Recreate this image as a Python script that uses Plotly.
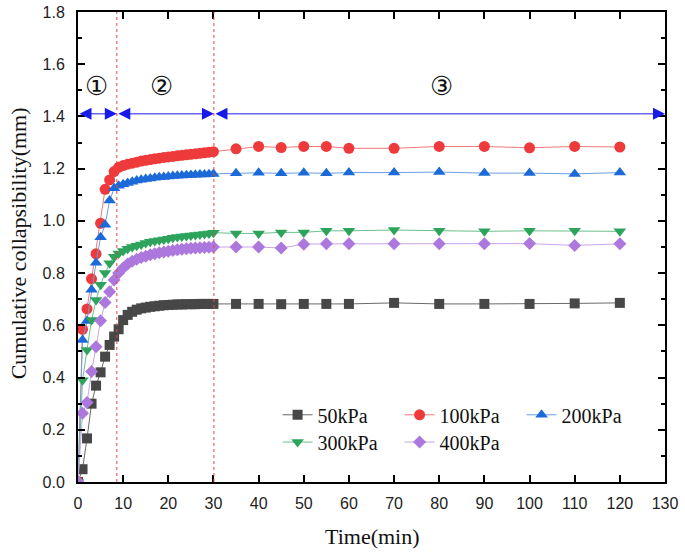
import plotly.graph_objects as go

# time (min): every minute up to 30, then sparser readings
time_min = list(range(0, 31)) + [35, 40, 45, 50, 55, 60, 70, 80, 90, 100, 110, 120]

kpa_50 = [0, 0.049, 0.167, 0.300, 0.369, 0.420, 0.480, 0.525, 0.557, 0.585,
          0.620, 0.640, 0.652, 0.660, 0.665, 0.668, 0.671, 0.673, 0.675, 0.677,
          0.678, 0.679, 0.680, 0.680, 0.681, 0.681, 0.681, 0.682, 0.682, 0.682,
          0.682,
          0.682, 0.682, 0.681, 0.682, 0.682, 0.682, 0.686, 0.682, 0.682, 0.682, 0.684, 0.686]
kpa_100 = [0, 0.585, 0.663, 0.778, 0.874, 0.991, 1.121, 1.157, 1.189, 1.205,
           1.212, 1.217, 1.221, 1.225, 1.229, 1.232, 1.235, 1.238, 1.240, 1.243,
           1.245, 1.247, 1.249, 1.251, 1.253, 1.255, 1.257, 1.259, 1.261, 1.263,
           1.265,
           1.276, 1.285, 1.281, 1.285, 1.285, 1.278, 1.278, 1.285, 1.285, 1.280, 1.285, 1.283]
kpa_200 = [0, 0.544, 0.617, 0.736, 0.840, 0.937, 0.985, 1.078, 1.125, 1.135,
           1.140, 1.145, 1.150, 1.155, 1.158, 1.160, 1.162, 1.165, 1.167, 1.168,
           1.170, 1.172, 1.173, 1.174, 1.175, 1.176, 1.177, 1.178, 1.178, 1.179,
           1.180,
           1.182, 1.184, 1.182, 1.184, 1.182, 1.185, 1.185, 1.187, 1.183, 1.183, 1.180, 1.185]
kpa_300 = [0, 0.390, 0.506, 0.620, 0.697, 0.755, 0.800, 0.838, 0.863, 0.875,
           0.885, 0.893, 0.900, 0.905, 0.910, 0.915, 0.920, 0.923, 0.926, 0.929,
           0.932, 0.935, 0.938, 0.940, 0.942, 0.944, 0.946, 0.948, 0.950, 0.952,
           0.955,
           0.952, 0.952, 0.956, 0.956, 0.962, 0.962, 0.965, 0.962, 0.960, 0.962, 0.962, 0.960]
kpa_400 = [0, 0.263, 0.304, 0.423, 0.518, 0.618, 0.687, 0.729, 0.774, 0.800,
           0.820, 0.835, 0.845, 0.853, 0.860, 0.865, 0.870, 0.874, 0.878, 0.881,
           0.884, 0.887, 0.889, 0.891, 0.893, 0.895, 0.896, 0.897, 0.898, 0.899,
           0.900,
           0.900, 0.900, 0.896, 0.911, 0.912, 0.912, 0.912, 0.912, 0.912, 0.913, 0.906, 0.912]

# stage boundaries (min) and stage labels
stage_bounds = [0, 8.6, 30.1, 130]
stage_labels = ["①", "②", "③"]
stage_label_x = [4.2, 18.6, 80.4]

series = [
    ("50kPa", kpa_50, "#474747", "#6a6a6a", "square", 10, "legend"),
    ("100kPa", kpa_100, "#ee3a3a", "#f07a7a", "circle", 11, "legend"),
    ("200kPa", kpa_200, "#1c6ad8", "#6a9ee6", "triangle-up", 11, "legend"),
    ("300kPa", kpa_300, "#2ea35c", "#6cc08e", "triangle-down", 11, "legend2"),
    ("400kPa", kpa_400, "#ad78dd", "#c7a4e8", "diamond", 10, "legend2"),
]

fig = go.Figure()
for name, vals, mcol, lcol, sym, size, leg in series:
    fig.add_trace(go.Scatter(
        x=time_min, y=vals, name=name, mode="lines+markers",
        line=dict(color=lcol, width=1),
        marker=dict(color=mcol, symbol=sym, size=size),
        legend=leg,
    ))

# dashed stage dividers
for b in stage_bounds[1:3]:
    fig.add_shape(type="line", x0=b, x1=b, y0=0, y1=1.8, xref="x", yref="y",
                  line=dict(color="#e04848", width=1, dash="dot"))

# double-headed arrows for each stage
for a, b in zip(stage_bounds[:-1], stage_bounds[1:]):
    fig.add_annotation(x=b, y=1.41, ax=a, ay=1.41, axref="x", ayref="y",
                       xref="x", yref="y", text="", showarrow=True,
                       arrowside="end+start", arrowhead=2, startarrowhead=2,
                       arrowsize=2.4, startarrowsize=2.4, arrowwidth=1,
                       arrowcolor="#1a1ae8", standoff=0, startstandoff=0)

for lab, lx in zip(stage_labels, stage_label_x):
    fig.add_annotation(x=lx, y=1.515, text=lab, showarrow=False,
                       font=dict(size=26, color="#111", family="DejaVu Sans"))

# axis titles
fig.add_annotation(x=0.501, y=-0.117, xref="paper", yref="paper", showarrow=False,
                   text="Time(min)", yanchor="middle",
                   font=dict(family="Liberation Serif", size=22, color="#111"))
fig.add_annotation(x=-0.102, y=0.508, xref="paper", yref="paper", showarrow=False,
                   text="Cumulative collapsibility(mm)", textangle=-90, xanchor="center",
                   font=dict(family="Liberation Serif", size=22, color="#111"))

legend_common = dict(
    orientation="h", entrywidth=77, xanchor="left", yanchor="middle",
    bgcolor="rgba(0,0,0,0)", font=dict(family="Liberation Serif", size=20, color="#111"),
    itemwidth=30,
)
fig.update_layout(
    width=685, height=553,
    margin=dict(l=78, r=20, t=12, b=71),
    plot_bgcolor="white", paper_bgcolor="white",
    legend=dict(x=0.34, y=0.143, **legend_common),
    legend2=dict(x=0.34, y=0.085, **legend_common),
    xaxis=dict(
        range=[0, 130], dtick=10, tick0=0, automargin=False,
        ticks="inside", ticklen=7, tickwidth=1.5, tickcolor="black",
        showline=True, linewidth=2, linecolor="black", mirror="ticks",
        showgrid=False, zeroline=False, ticklabelstandoff=6,
        tickfont=dict(family="Liberation Sans", size=16, color="#222"),
    ),
    yaxis=dict(
        range=[0, 1.8], dtick=0.2, tick0=0, tickformat=".1f", automargin=False,
        ticks="inside", ticklen=7, tickwidth=1.5, tickcolor="black",
        minor=dict(dtick=0.1, ticks="inside", ticklen=4, tickwidth=1.5, tickcolor="black"),
        showline=True, linewidth=2, linecolor="black", mirror="ticks",
        showgrid=False, zeroline=False, ticklabelstandoff=8,
        tickfont=dict(family="Liberation Sans", size=16, color="#222"),
    ),
)

# drop the default page margin so the figure sits at the window's corner
fig.write_html("out.html", config={"displayModeBar": False},
               post_script="document.body.style.margin='0';")
